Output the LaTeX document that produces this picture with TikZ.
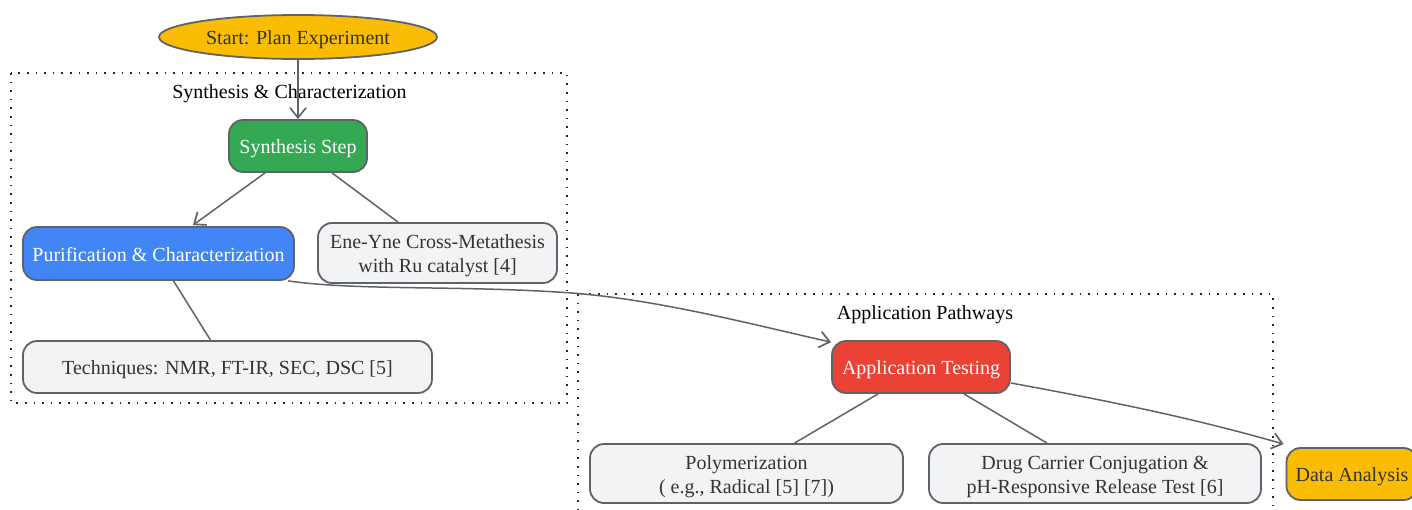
\documentclass[tikz,border=0pt]{standalone}
\usepackage{fontspec}
\setmainfont{Liberation Serif}
\usetikzlibrary{arrows.meta,shapes.geometric,calc}
\definecolor{bordc}{HTML}{5F6368}
\definecolor{edgec}{HTML}{5F6368}
\definecolor{txtc}{HTML}{333333}
\definecolor{cyellow}{HTML}{FBBC04}
\definecolor{cgreen}{HTML}{34A853}
\definecolor{cblue}{HTML}{4285F4}
\definecolor{cred}{HTML}{EA4335}
\definecolor{cgray}{HTML}{F1F3F4}
\newcommand{\diagfont}{\fontsize{20}{24}\selectfont}
\tikzset{
  oneline/.style={text height=19pt, text depth=4pt},
  twoline/.style={text height=43pt, text depth=4pt},
  basebox/.style={draw=bordc, line width=1.8pt, rounded corners=14pt, align=center,
    inner sep=0pt, font=\diagfont, text=txtc},
  notebox/.style={basebox, fill=cgray},
  cluster/.style={draw=black!85, line width=1.6pt, dash pattern=on 1.6pt off 7pt},
  clusterlabel/.style={font=\diagfont, text=black, inner sep=0pt},
  link/.style={draw=edgec, line width=1.5pt},
  arrowlink/.style={link, -{Straight Barb[length=10pt,width=16pt,line width=1.7pt]}},
}
\begin{document}
\begin{tikzpicture}[x=1pt,y=-1pt]
\useasboundingbox (0,0) rectangle (1412,509);
\clip (0,0) rectangle (1412,509);
\fill[white] (0,0) rectangle (1412,509);

% clusters
\draw[cluster] (11,73) rectangle (567,403);
\node[clusterlabel] (lab1) at (289.5,94) {Synthesis \& Characterization};
\draw[cluster] (578,294) rectangle (1273,530);
\node[clusterlabel] (lab2) at (925,315) {Application Pathways};

% nodes
\node[ellipse, draw=bordc, line width=1.8pt, fill=cyellow, minimum width=278pt,
      minimum height=44pt, inner sep=0pt, font=\diagfont, text=txtc, oneline]
      (start) at (298,37) {Start: Plan Experiment};
\node[basebox, oneline, fill=cgreen, text=white, minimum width=138pt, minimum height=52pt]
      (syn) at (298,146) {Synthesis Step};
\node[basebox, oneline, fill=cblue, text=white, minimum width=271pt, minimum height=53pt]
      (pur) at (158.5,253.5) {Purification \& Characterization};
\node[notebox, twoline, minimum width=239pt, minimum height=60pt]
      (ene) at (437.5,253) {Ene-Yne Cross-Metathesis\\with Ru catalyst [4]};
\node[notebox, oneline, minimum width=409pt, minimum height=52pt]
      (tech) at (227.5,367) {Techniques: NMR, FT-IR, SEC, DSC [5]};
\node[basebox, oneline, fill=cred, text=white, minimum width=178pt, minimum height=52pt]
      (app) at (921,367) {Application Testing};
\node[notebox, twoline, minimum width=313pt, minimum height=59pt]
      (poly) at (746.5,473.5) {Polymerization\\( e.g., Radical [5] [7])};
\node[notebox, twoline, minimum width=332pt, minimum height=59pt]
      (drug) at (1095,473.5) {Drug Carrier Conjugation \&\\pH-Responsive Release Test [6]};
\node[basebox, oneline, fill=cyellow, minimum width=131pt, minimum height=52pt]
      (data) at (1352,474) {Data Analysis};

% connectors
\draw[arrowlink] (start.south) -- (syn.north);
\draw[arrowlink] ($(syn.south)+(-33,0)$) -- ($(pur.north)+(34.5,-1)$);
\draw[link] ($(syn.south)+(34,0)$) -- ($(ene.north)+(-39.5,0)$);
\draw[link] ($(pur.south)+(15,0)$) -- ($(tech.north)+(-17,0)$);
\draw[arrowlink] ($(pur.south east)+(-7,0)$)
   .. controls (360,291) and (460,285) .. (572,293)
   .. controls (660,300) and (750,324) .. ($(app.north west)+(0,2)$);
\draw[link] ($(app.south)+(-43,0)$) -- ($(poly.north)+(48,0)$);
\draw[link] ($(app.south)+(43,0)$) -- ($(drug.north)+(-48,0)$);
\draw[arrowlink] ($(app.east)+(0,16)$)
   .. controls (1120,403) and (1200,420) .. ($(data.north west)+(-2,-3)$);
\end{tikzpicture}
\end{document}
